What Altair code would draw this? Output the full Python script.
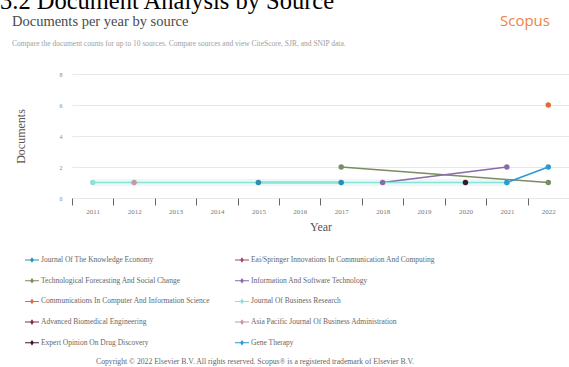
import altair as alt
import pandas as pd

# ---- data ----
years = [str(y) for y in range(2011, 2023)]

sources = [
    "Journal Of The Knowledge Economy",
    "Eai/Springer Innovations In Communication And Computing",
    "Technological Forecasting And Social Change",
    "Information And Software Technology",
    "Communications In Computer And Information Science",
    "Journal Of Business Research",
    "Advanced Biomedical Engineering",
    "Asia Pacific Journal Of Business Administration",
    "Expert Opinion On Drug Discovery",
    "Gene Therapy",
]
colors = [
    "#2a8db5", "#a34a6c", "#7a8c62", "#8a6aaa", "#e26a38",
    "#8fe0d6", "#8a2c45", "#c49aa2", "#3b1c2c", "#2b9ad0",
]

pt_source = [
    "Journal Of The Knowledge Economy", "Journal Of The Knowledge Economy",
    "Technological Forecasting And Social Change", "Technological Forecasting And Social Change",
    "Information And Software Technology", "Information And Software Technology",
    "Communications In Computer And Information Science",
    "Journal Of Business Research", "Journal Of Business Research",
    "Asia Pacific Journal Of Business Administration",
    "Expert Opinion On Drug Discovery",
    "Gene Therapy", "Gene Therapy",
]
pt_year = ["2015", "2017", "2017", "2022", "2018", "2021", "2022",
           "2011", "2021", "2012", "2020", "2021", "2022"]
pt_value = [1, 1, 2, 1, 1, 2, 6, 1, 1, 1, 1, 1, 2]

heading_text = ["3.2 Document Analysis by Source"]
card_title = ["Documents per year by source"]
card_sub = ["Compare the document counts for up to 10 sources. Compare sources and view CiteScore, SJR, and SNIP data."]
brand = ["Scopus"]
copyright_text = ["Copyright \u00a9 2022 Elsevier B.V. All rights reserved. Scopus\u00ae is a registered trademark of Elsevier B.V."]

df = pd.DataFrame({"source": pt_source, "year": pt_year, "value": pt_value})

SERIF = "Liberation Serif"
PLOT_LEFT, PLOT_TOP = 72, 74

x_enc = alt.X(
    "year:O",
    scale=alt.Scale(type="band", domain=years, paddingInner=0, paddingOuter=0),
    axis=alt.Axis(
        title="Year", labelAngle=0, tickBand="extent", domain=False, grid=False,
        ticks=True, tickSize=7, tickColor="#666", tickWidth=1,
        labelFont=SERIF, labelFontSize=7, labelColor="#777", labelPadding=2,
        titleFont=SERIF, titleFontSize=12, titleFontWeight="normal",
        titleColor="#555", titlePadding=7,
    ),
)
y_enc = alt.Y(
    "value:Q",
    scale=alt.Scale(domain=[0, 8]),
    axis=alt.Axis(
        title="Documents", values=[0, 2, 4, 6, 8], domain=False, ticks=False,
        grid=True, gridColor="#e8e8e8", labelFont=SERIF, labelFontSize=6,
        labelColor="#888", labelPadding=10,
        titleFont=SERIF, titleFontSize=12, titleFontWeight="normal",
        titleColor="#555", titlePadding=32,
    ),
)
stroke_scale = alt.Scale(domain=sources, range=colors)
fill_scale = alt.Scale(domain=sources, range=colors)

legend_path = "M-1,-0.07L1,-0.07L1,0.07L-1,0.07Z M0,-0.4L0.28,0L0,0.4L-0.28,0Z"

base = alt.Chart(df)

glow = base.transform_filter(
    alt.datum.source == "Journal Of Business Research"
).mark_line(strokeWidth=7, opacity=0.2).encode(
    x=x_enc, y=y_enc,
    stroke=alt.Stroke("source:N", scale=stroke_scale, legend=None),
    detail="source:N",
)

lines = base.mark_line(strokeWidth=1.5).encode(
    x=x_enc, y=y_enc,
    stroke=alt.Stroke("source:N", scale=stroke_scale, legend=None),
    detail="source:N",
)

points = base.mark_point(filled=True, size=30, opacity=1, strokeWidth=0).encode(
    x=x_enc, y=y_enc,
    fill=alt.Fill(
        "source:N", scale=fill_scale,
        legend=alt.Legend(
            title=None, orient="none", legendX=25 - PLOT_LEFT, legendY=253 - PLOT_TOP,
            direction="horizontal",
            columns=2, gridAlign="none", columnPadding=25, rowPadding=9.7,
            symbolType=legend_path, symbolSize=196, symbolStrokeWidth=0,
            symbolOpacity=1,
            labelFont=SERIF, labelFontSize=7.5, labelColor="#666",
            labelLimit=400, labelOffset=2, padding=0,
        ),
    ),
)


def text_layer(vals, x, y, size, color, font=SERIF, align="left", weight="normal"):
    return alt.Chart(pd.DataFrame({"t": vals})).mark_text(
        align=align, baseline="alphabetic", font=font, fontSize=size,
        color=color, fontWeight=weight,
    ).encode(text="t:N", x=alt.value(x - PLOT_LEFT), y=alt.value(y - PLOT_TOP))


heading = text_layer(heading_text, 0, 9, 24.5, "#000000")
ctitle = text_layer(card_title, 12, 26, 14.5, "#4a4a4a")
csub = text_layer(card_sub, 12, 46, 7.5, "#a0a0a0")
scopus = text_layer(brand, 500, 26, 15, "#ec8248", font="Open Sans")
copyr = text_layer(copyright_text, 255, 364, 7.7, "#666", align="center")

chart = alt.layer(
    glow, lines, points, heading, ctitle, csub, scopus, copyr
).resolve_scale(stroke="independent", fill="independent").properties(
    width=497, height=124,
    autosize=alt.AutoSizeParams(type="none"),
    padding={"left": PLOT_LEFT, "top": PLOT_TOP, "right": 0, "bottom": 367 - PLOT_TOP - 124},
    background="white",
).configure_view(stroke=None)

chart.save("out.html", embed_options={"renderer": "svg", "actions": False})
